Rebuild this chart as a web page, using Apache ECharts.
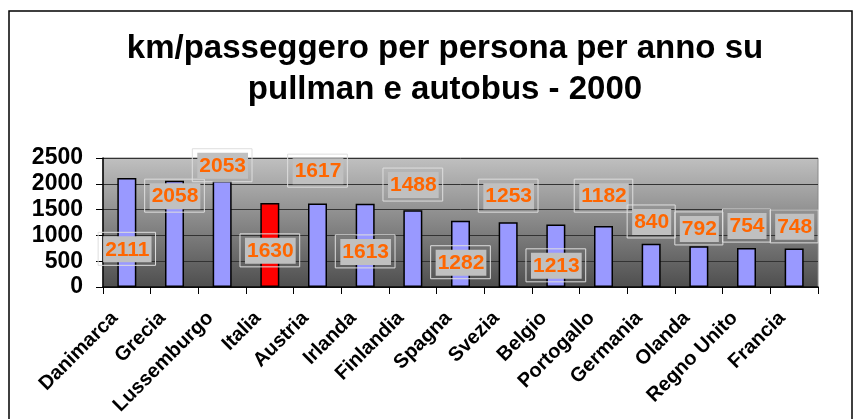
<!DOCTYPE html>
<html>
<head>
<meta charset="utf-8">
<script src="https://cdn.jsdelivr.net/npm/echarts@6/dist/echarts.min.js"></script>
<style>
  html, body { margin: 0; padding: 0; background: #fff; }
  #chart { width: 860px; height: 419px; }
</style>
</head>
<body>
<div id="chart"></div>
<script>
const countries = ["Danimarca", "Grecia", "Lussemburgo", "Italia", "Austria", "Irlanda", "Finlandia",
  "Spagna", "Svezia", "Belgio", "Portogallo", "Germania", "Olanda", "Regno Unito", "Francia"];
const kmValues = [2111, 2058, 2053, 1630, 1617, 1613, 1488, 1282, 1253, 1213, 1182, 840, 792, 754, 748];
// level on the value axis where each data label sits (as in the original)
const labelLevels = [740, 1770, 2360, 710, 2255, 690, 1985, 480, 1770, 420, 1770, 1270, 1135, 1190, 1175];
const highlight = "Italia";
const yTicks = { min: 0, max: 2500, interval: 500 };

const chart = echarts.init(document.getElementById("chart"));

const option = {
  animation: false,
  title: {
    text: "km/passeggero per persona per anno su\npullman e autobus - 2000",
    left: 440,
    top: 23,
    textAlign: "center",
    textStyle: { fontFamily: "Liberation Sans", fontWeight: "bold", fontSize: 33, lineHeight: 41, color: "#000" },
  },
  graphic: [{
    type: "rect",
    shape: { x: 9, y: 11, width: 843, height: 430 },
    style: { fill: "none", stroke: "#000", lineWidth: 1.5 },
    silent: true,
  }],
  grid: {
    left: 103, right: 42, top: 158, bottom: 132,
    show: true,
    borderColor: "#888",
    borderWidth: 1,
    backgroundColor: new echarts.graphic.LinearGradient(0, 0, 0, 1, [
      { offset: 0, color: "#c0c0c0" },
      { offset: 1, color: "#4e4e4e" },
    ]),
  },
  xAxis: {
    type: "category",
    data: countries,
    axisLine: { lineStyle: { color: "#000", width: 1.5 } },
    axisTick: { show: true, length: 7, lineStyle: { color: "#000" } },
    axisLabel: {
      interval: 0,
      rotate: 45,
      margin: 16,
      padding: [0, 17, 0, 0],
      fontFamily: "Liberation Sans",
      fontWeight: "bold",
      fontSize: 20,
      color: "#000",
    },
  },
  yAxis: {
    type: "value",
    min: yTicks.min,
    max: yTicks.max,
    interval: yTicks.interval,
    axisLine: { show: true, lineStyle: { color: "#000", width: 1.5 } },
    axisTick: { show: true, length: 7, lineStyle: { color: "#000" } },
    splitLine: { lineStyle: { color: "#333", width: 1 } },
    axisLabel: {
      margin: 20,
      formatter: (v) => String(v),
      fontFamily: "Liberation Sans",
      fontWeight: "bold",
      fontSize: 23,
      color: "#000",
    },
  },
  series: [{
    type: "bar",
    barWidth: 19,
    data: kmValues.map((v, i) => ({
      value: v,
      itemStyle: { color: countries[i] === highlight ? "#ff0000" : "#9999ff" },
    })),
    itemStyle: { borderColor: "#000", borderWidth: 1.5 },
    label: {
      show: true,
      position: "top",
      formatter: "{a|{c}}",
      padding: [6, 4, 5, 5],
      borderColor: "#dedede",
      borderWidth: 1,
      rich: {
        a: {
          fontFamily: "Liberation Sans",
          fontWeight: "bold",
          fontSize: 21,
          lineHeight: 22,
          color: "#ff6600",
          backgroundColor: "#c0c0c0",
          padding: [3, 2, 2, 2],
        },
      },
    },
    labelLayout: (params) => ({
      x: params.rect.x + params.rect.width / 2,
      y: chart.convertToPixel({ yAxisIndex: 0 }, labelLevels[params.dataIndex]),
      align: "center",
      verticalAlign: "middle",
    }),
  }],
};

chart.setOption(option);
</script>
</body>
</html>
